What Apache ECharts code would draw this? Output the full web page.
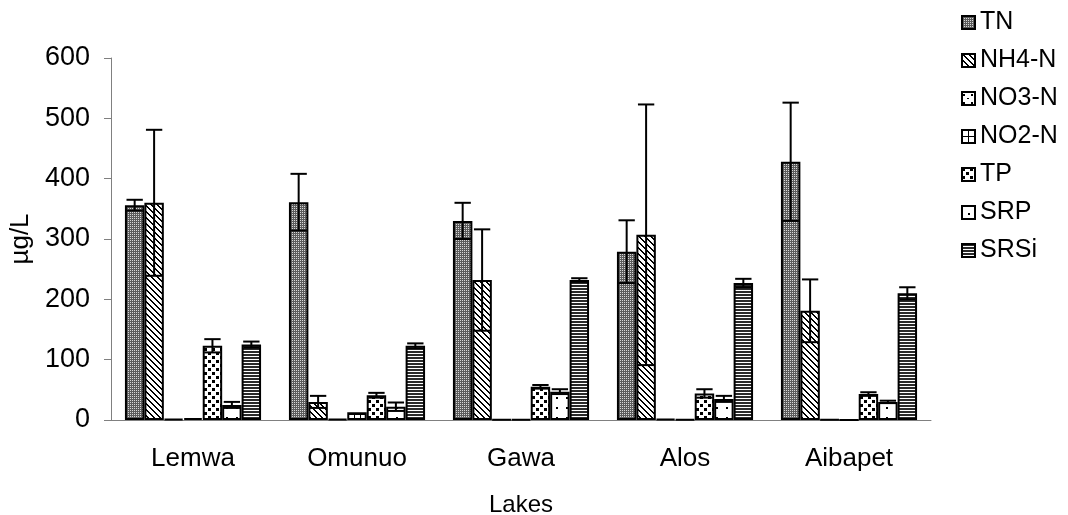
<!DOCTYPE html>
<html>
<head>
<meta charset="utf-8">
<script src="https://cdn.jsdelivr.net/npm/echarts@6/dist/echarts.min.js"></script>
<style>
  html, body { margin: 0; padding: 0; background: #fff; }
  #barChart { width: 1068px; height: 515px; }
</style>
</head>
<body>
<div id="barChart"></div>
<script>
const lakes = ["Lemwa", "Omunuo", "Gawa", "Alos", "Aibapet"];
const seriesNames = ["TN", "NH4-N", "NO3-N", "NO2-N", "TP", "SRP", "SRSi"];

const tn = [356, 361, 330, 279, 428];
const tnErr = [9, 47, 30, 52, 98];
const nh4 = [360, 30, 232, 307, 181];
const nh4Err = [121, 10, 84, 216, 52];
const no3 = [2, 2, 1, 2, 1];
const no3Err = [0, 0, 0, 0, 0];
const no2 = [3, 13, 1, 1, 0];
const no2Err = [0, 0, 0, 0, 0];
const tp = [123, 41, 55, 44, 43];
const tpErr = [11, 4, 3, 7, 3];
const srp = [25, 22, 47, 35, 30];
const srpErr = [5, 7, 4, 5, 2];
const srsi = [125, 123, 232, 227, 210];
const srsiErr = [5, 4, 3, 7, 10];

const yTicks = [0, 100, 200, 300, 400, 500, 600];

const values = [tn, nh4, no3, no2, tp, srp, srsi];
const errors = [tnErr, nh4Err, no3Err, no2Err, tpErr, srpErr, srsiErr];

const CAT_GAP = 0.17;

// little tiles used as fill patterns (black & white chart)
function tile(w, h, draw) {
  const c = document.createElement("canvas");
  c.width = w;
  c.height = h;
  const ctx = c.getContext("2d");
  ctx.fillStyle = "#fff";
  ctx.fillRect(0, 0, w, h);
  draw(ctx);
  return { image: c, repeat: "repeat" };
}

const patterns = [
  // TN: dense grey checker
  tile(2, 2, (ctx) => {
    ctx.fillStyle = "#5c5c5c";
    ctx.fillRect(0, 0, 2, 2);
    ctx.fillStyle = "#d8d8d8";
    ctx.fillRect(0, 0, 1, 1);
  }),
  // NH4-N: diagonal stripes
  tile(6, 6, (ctx) => {
    ctx.fillStyle = "#000";
    for (let y = 0; y < 6; y++) {
      for (let x = 0; x < 6; x++) {
        if ((x - y + 12) % 6 < 2) ctx.fillRect(x, y, 1, 1);
      }
    }
  }),
  // NO3-N: sparse dots
  tile(8, 8, (ctx) => {
    ctx.fillStyle = "#000";
    ctx.fillRect(1, 2, 2, 2);
    ctx.fillRect(5, 6, 2, 1);
  }),
  // NO2-N: grid
  tile(6, 6, (ctx) => {
    ctx.fillStyle = "#000";
    ctx.fillRect(0, 0, 6, 1);
    ctx.fillRect(0, 0, 1, 6);
  }),
  // TP: big dots
  tile(8, 8, (ctx) => {
    ctx.fillStyle = "#000";
    ctx.fillRect(0, 0, 3, 3);
    ctx.fillRect(4, 4, 3, 3);
  }),
  // SRP: very sparse dots
  tile(10, 10, (ctx) => {
    ctx.fillStyle = "#000";
    ctx.fillRect(6, 7, 2, 2);
  }),
  // SRSi: horizontal stripes
  tile(1, 3, (ctx) => {
    ctx.fillStyle = "#2a2a2a";
    ctx.fillRect(0, 0, 1, 2);
  }),
];

const errData = [];
values.forEach((arr, s) => {
  arr.forEach((v, c) => {
    if (errors[s][c] > 0) errData.push([c, s, v, errors[s][c]]);
  });
});

const chart = echarts.init(document.getElementById("barChart"), null, {
  renderer: "canvas",
});

const font = "'Liberation Sans', Arial, sans-serif";

const option = {
  animation: false,
  backgroundColor: "#fff",
  textStyle: { fontFamily: font, color: "#000" },
  legend: {
    orient: "vertical",
    left: 961,
    top: 10,
    padding: 0,
    icon: "rect",
    itemWidth: 13,
    itemHeight: 13,
    itemGap: 13,
    data: seriesNames,
    textStyle: { fontSize: 25, color: "#000", fontFamily: font },
  },
  grid: { left: 111, right: 137, top: 58, bottom: 95, outerBoundsMode: "none" },
  xAxis: {
    type: "category",
    data: lakes,
    name: "Lakes",
    nameLocation: "middle",
    nameGap: 73,
    nameTextStyle: { fontSize: 24, color: "#000" },
    axisLine: { lineStyle: { color: "#808080", width: 1 } },
    axisTick: { length: 7, lineStyle: { color: "#808080" } },
    axisLabel: { fontSize: 26, color: "#000", margin: 26 },
  },
  yAxis: {
    type: "value",
    min: yTicks[0],
    max: yTicks[yTicks.length - 1],
    interval: 100,
    name: "µg/L",
    nameLocation: "middle",
    nameGap: 71,
    nameTextStyle: { fontSize: 26, color: "#000" },
    axisLine: { show: true, lineStyle: { color: "#808080", width: 1 } },
    axisTick: { show: true, length: 7, lineStyle: { color: "#808080" } },
    axisLabel: { fontSize: 27, color: "#000", margin: 21 },
    splitLine: { show: false },
  },
  series: [
    ...seriesNames.map((name, s) => ({
      name: name,
      type: "bar",
      barGap: "0%",
      barCategoryGap: CAT_GAP * 100 + "%",
      data: values[s],
      itemStyle: { color: patterns[s], borderColor: "#000", borderWidth: 2 },
      emphasis: { disabled: true },
    })),
    {
      name: "err",
      type: "custom",
      z: 10,
      data: errData,
      encode: { x: 0, y: 2 },
      renderItem: function (params, api) {
        const c = api.value(0);
        const s = api.value(1);
        const v = api.value(2);
        const e = api.value(3);
        const band = api.size([1, 0])[0];
        const barW = (band * (1 - CAT_GAP)) / 7;
        const x = api.coord([c, v])[0] + (s - 3) * barW;
        const yTop = api.coord([c, v + e])[1];
        const yBot = api.coord([c, Math.max(v - e, 0)])[1];
        const cap = barW * 0.42;
        const style = { stroke: "#000", lineWidth: 2 };
        return {
          type: "group",
          children: [
            { type: "line", shape: { x1: x, y1: yTop, x2: x, y2: yBot }, style },
            { type: "line", shape: { x1: x - cap, y1: yTop, x2: x + cap, y2: yTop }, style },
            { type: "line", shape: { x1: x - cap, y1: yBot, x2: x + cap, y2: yBot }, style },
          ],
        };
      },
    },
  ],
};

chart.setOption(option);
</script>
</body>
</html>
